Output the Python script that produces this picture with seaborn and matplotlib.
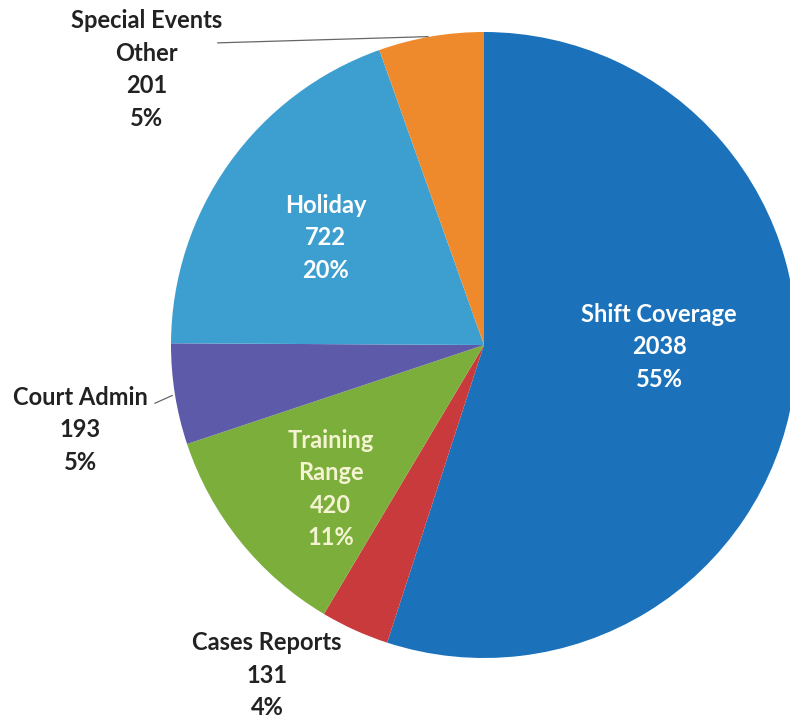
import numpy as np
import matplotlib
matplotlib.use('Agg')
import matplotlib.pyplot as plt
import seaborn as sns

sns.set_theme(style='white')
plt.rcParams['font.family'] = ['Lato', 'DejaVu Sans']

categories = ['Shift Coverage', 'Cases Reports', 'Training\nRange', 'Court Admin',
              'Holiday', 'Special Events\nOther']
hours = [2038, 131, 420, 193, 722, 201]
pct_labels = ['55%', '4%', '11%', '5%', '20%', '5%']

colors = ['#1b72ba', '#c83a3c', '#7cae3c', '#5d5ba9', '#3d9fd0', '#ef8a2c']
text_colors = ['white', '#222222', '#f4f4d2', '#222222', 'white', '#222222']
# text centres in axes data units (pie radius = 1)
label_xy = [(0.56, -0.005), (-0.693, -1.055), (-0.49, -0.46), (-1.29, -0.27),
            (-0.505, 0.342), (-1.077, 0.88)]
leader_from = {3: (-1.06, -0.19), 5: (-0.86, 0.965)}

fig = plt.figure(figsize=(7.9, 7.21), dpi=100)
ax = fig.add_axes([171 / 790, (721 - 658) / 721, 626 / 790, 626 / 721])

wedges, _ = ax.pie(hours, colors=colors, startangle=90, counterclock=False,
                   radius=1, wedgeprops=dict(linewidth=0))
ax.set_xlim(-1, 1)
ax.set_ylim(-1, 1)
ax.set_aspect('auto')
ax.axis('off')

for i, (cat, val, pct) in enumerate(zip(categories, hours, pct_labels)):
    x, y = label_xy[i]
    ax.text(x, y, f'{cat}\n{val}\n{pct}', ha='center', va='center',
            fontsize=17, fontweight='bold', color=text_colors[i],
            linespacing=1.5, clip_on=False)

for i, start in leader_from.items():
    w = wedges[i]
    mid = np.deg2rad((w.theta1 + w.theta2) / 2)
    ax.annotate('', xy=(np.cos(mid), np.sin(mid)), xytext=start,
                arrowprops=dict(arrowstyle='-', color='#666666', lw=0.9,
                                connectionstyle='arc3,rad=0.0'),
                annotation_clip=False)

fig.savefig('out.png', dpi=100)
